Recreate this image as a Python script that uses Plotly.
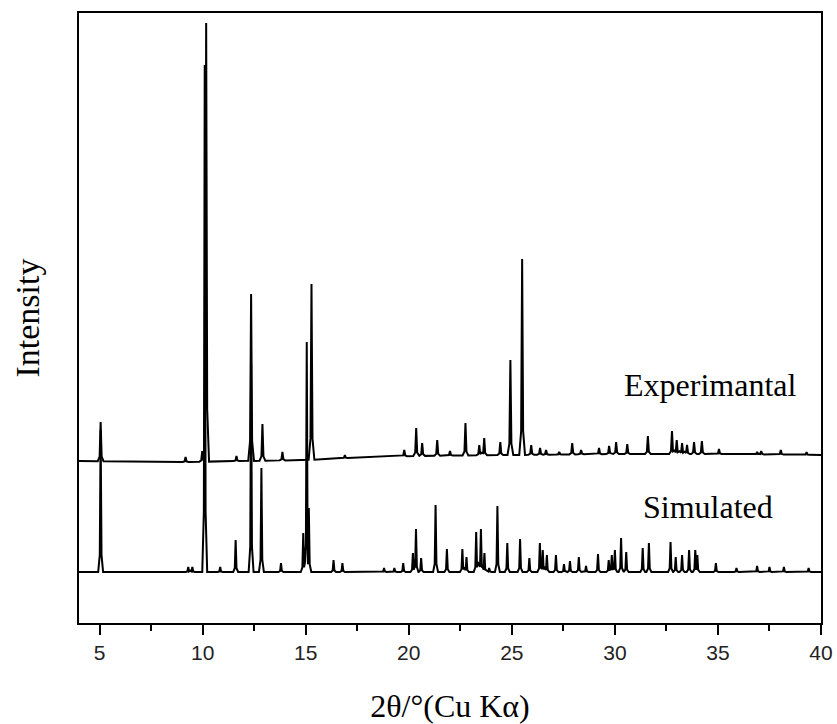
import numpy as np
import plotly.graph_objects as go

# ---- data (y in arbitrary intensity units, offset stacked) ----
exp_peak_x = [5.05, 9.17, 9.98, 10.17, 11.64, 12.35, 12.9, 13.87, 15.28, 16.9,
              19.78, 20.36, 20.65, 21.38, 22.0, 22.75, 23.42, 23.66, 24.44, 24.93,
              25.5, 25.94, 26.37, 26.66, 27.3, 27.93, 28.36, 29.23, 29.72, 30.06,
              30.6, 31.6, 32.77, 33.0, 33.26, 33.5, 33.84, 34.22, 35.05, 36.9,
              37.1, 38.05, 39.3]
exp_peak_y = [201, 166, 172, 600, 167, 329, 199, 171, 339, 168,
              173, 195, 180, 183, 172, 200, 178, 185, 181, 263,
              364, 178, 175, 173, 171, 180, 173, 175, 177, 181,
              179, 187, 192, 183, 180, 178, 181, 182, 174, 171,
              172, 173, 171]
exp_base_x = [4, 9, 15, 17, 20, 25, 30, 35, 40]
exp_base_y = [162, 161, 163, 165, 167, 168, 169, 169, 168]

sim_peak_x = [5.05, 9.3, 9.5, 10.1, 10.85, 11.6, 12.35, 12.85, 13.8, 14.88,
              15.05, 15.15, 16.35, 16.78, 18.8, 19.3, 19.73, 20.2, 20.35, 20.6,
              21.3, 21.85, 22.6, 22.8, 23.27, 23.5, 23.67, 23.9, 24.3, 24.78,
              25.4, 25.85, 26.36, 26.5, 26.7, 27.14, 27.53, 27.82, 28.25, 28.6,
              29.18, 29.7, 29.85, 30.0, 30.3, 30.55, 31.35, 31.65, 32.7, 32.95,
              33.26, 33.6, 33.9, 34.0, 34.9, 35.9, 36.9, 37.5, 38.2, 39.4]
sim_peak_y = [193, 56, 56, 558, 56, 83, 260, 155, 60, 90,
              281, 115, 63, 60, 55, 55, 60, 70, 94, 65,
              118, 74, 74, 66, 91, 94, 70, 55, 117, 80,
              84, 65, 80, 73, 68, 68, 59, 62, 66, 57,
              69, 63, 68, 73, 85, 71, 75, 80, 81, 66,
              68, 73, 73, 68, 60, 55, 57, 56, 56, 55]
sim_base_x = [4, 40]
sim_base_y = [51, 51]

x_ticks = [5, 10, 15, 20, 25, 30, 35, 40]


def build(px, py, bx, by, hw):
    xs, ys = [bx[0]], [by[0]]
    n = len(px)
    for i in range(n):
        p, h = px[i], py[i]
        b = float(np.interp(p, bx, by))
        left = p - hw
        if i > 0 and px[i - 1] + hw > left:
            left = (px[i - 1] + p) / 2
            vy = b + 0.25 * (min(h, py[i - 1]) - b)
        else:
            vy = b
        xs.append(left); ys.append(vy)
        xs += [p - hw * 0.35, p, p + hw * 0.35]
        ys += [b + 0.12 * (h - b), h, b + 0.12 * (h - b)]
        right = p + hw
        if i < n - 1 and px[i + 1] - hw < right:
            continue
        xs.append(right); ys.append(b)
    xs.append(bx[-1]); ys.append(by[-1])
    return xs, ys


ex, ey = build(exp_peak_x, exp_peak_y, exp_base_x, exp_base_y, 0.14)
sx, sy = build(sim_peak_x, sim_peak_y, sim_base_x, sim_base_y, 0.12)

fig = go.Figure()
fig.add_trace(go.Scatter(x=ex, y=ey, mode="lines", line=dict(color="black", width=2),
                         name="Experimantal", showlegend=False))
fig.add_trace(go.Scatter(x=sx, y=sy, mode="lines", line=dict(color="black", width=2),
                         name="Simulated", showlegend=False))

serif = "Liberation Serif, Times New Roman, serif"
fig.add_annotation(x=34.6, y=623 - 385, xref="x", yref="y", text="Experimantal", showarrow=False,
                   font=dict(family=serif, size=32, color="black"))
fig.add_annotation(x=34.5, y=623 - 507, xref="x", yref="y", text="Simulated", showarrow=False,
                   font=dict(family=serif, size=32, color="black"))

fig.update_xaxes(range=[4, 40], tickmode="array", tickvals=x_ticks,
                 ticks="outside", ticklen=10, tickwidth=1.5, tickcolor="black",
                 minor=dict(ticks="outside", ticklen=6, tickwidth=1.5, tickcolor="black", dtick=2.5,
                            tick0=2.5),
                 showline=True, linecolor="black", linewidth=2, mirror=True,
                 showgrid=False, zeroline=False, automargin=False,
                 ticklabeloverflow="allow",
                 tickfont=dict(family="Liberation Sans, Arial, sans-serif", size=21, color="#222"),
                 title=dict(text="2θ/°(Cu Kα)", font=dict(family=serif, size=32, color="black"),
                            standoff=37))
fig.update_yaxes(range=[0, 610], showticklabels=False, ticks="",
                 showline=True, linecolor="black", linewidth=2, mirror=True,
                 showgrid=False, zeroline=False, automargin=False,
                 title=dict(text="Intensity", font=dict(family=serif, size=34, color="black"),
                            standoff=27))
fig.update_layout(width=837, height=724, margin=dict(l=79, r=16, t=13, b=101),
                  plot_bgcolor="white", paper_bgcolor="white")

# remove the browser's default 8px body margin so the figure fills the window exactly
fig.write_html("out.html", config={"displayModeBar": False},
               post_script="document.body.style.margin='0';")
